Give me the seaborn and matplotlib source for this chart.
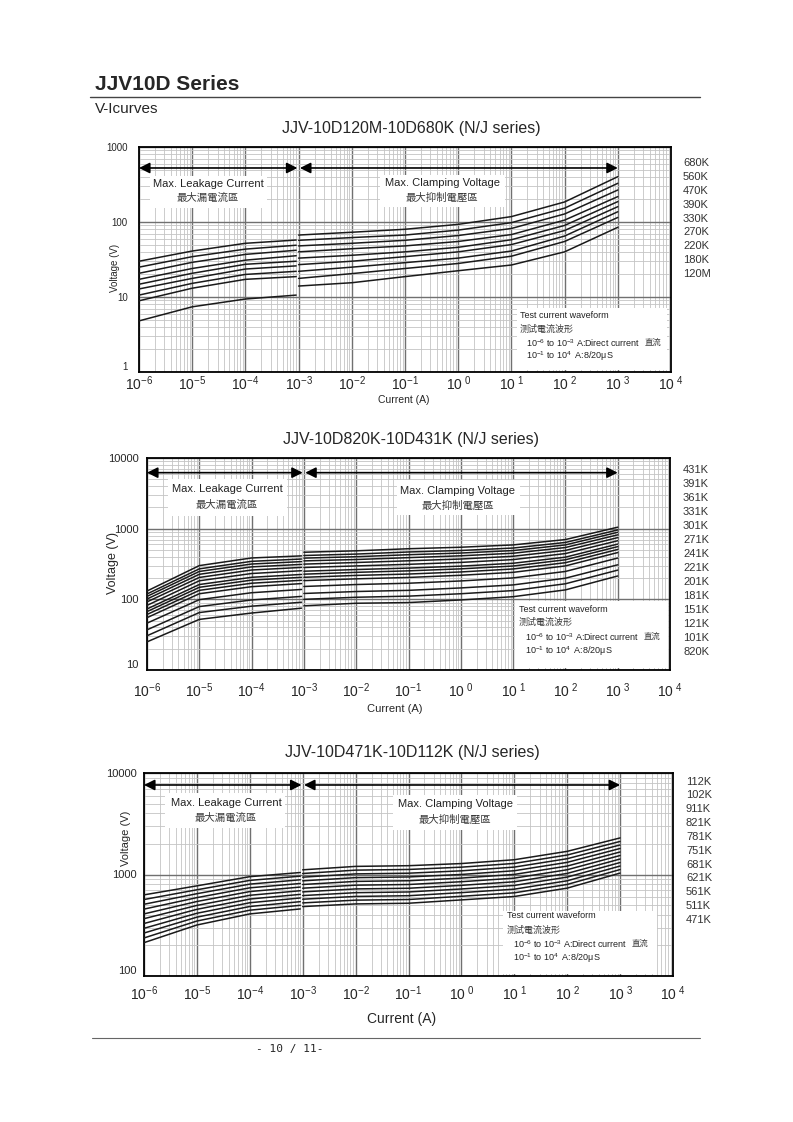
import numpy as np
import pandas as pd
import matplotlib
matplotlib.use("Agg")
import matplotlib.pyplot as plt
import seaborn as sns
from matplotlib.ticker import LogLocator, NullFormatter
from matplotlib.patches import Rectangle
from matplotlib.lines import Line2D

sns.set_style("white")
plt.rcParams["font.family"] = ["Liberation Sans", "Noto Sans CJK SC", "DejaVu Sans"]
plt.rcParams["mathtext.fontset"] = "custom"
plt.rcParams["mathtext.rm"] = "Liberation Sans"
plt.rcParams["mathtext.it"] = "Liberation Sans:italic"
plt.rcParams["mathtext.bf"] = "Liberation Sans:bold"

# ---- data ----
current_leak = [1e-6, 1e-5, 1e-4, 9e-4]
current_clamp = [1e-3, 1e-2, 1e-1, 1, 10, 100, 1000]

names_1 = ["680K", "560K", "470K", "390K", "330K", "270K", "220K", "180K", "120M"]
leak_1 = [
    [30, 41, 52, 57.5],
    [25, 34.5, 43.5, 49],
    [20.7, 29, 37, 42],
    [17.2, 24, 31, 35.5],
    [14.8, 20.7, 27.3, 30],
    [12.8, 17.7, 23.6, 26],
    [10.6, 15.2, 20, 22],
    [8.9, 13.1, 17.2, 18.7],
    [4.8, 7.4, 9.4, 10.6],
]
clamp_1 = [
    [67, 73, 80, 93, 118, 185, 402],
    [57, 62, 67, 78, 98, 153, 328],
    [48, 52, 57, 66, 82, 128, 267],
    [40, 44, 48, 55, 68, 106, 218],
    [33, 36, 40, 46, 58, 90, 187],
    [27, 30, 34.5, 40, 50, 77, 160],
    [22, 25, 28.7, 33, 41, 65, 137],
    [17.7, 20.5, 24, 28, 35, 55, 115],
    [14, 15.5, 18.7, 22.4, 26.7, 40, 85],
]

names_2 = ["431K", "391K", "361K", "331K", "301K", "271K", "241K",
           "221K", "201K", "181K", "151K", "121K", "101K", "820K"]
leak_2 = [
    [131, 300, 385, 412],
    [119, 270, 345, 372],
    [110, 248, 316, 342],
    [101, 226, 288, 312],
    [92, 204, 260, 283],
    [82, 183, 232, 254],
    [73, 162, 205, 225],
    [67, 148, 187, 205],
    [61, 134, 169, 186],
    [55, 120, 151, 167],
    [46, 99, 124, 138],
    [37, 79, 98, 110],
    [30.5, 65, 80, 91],
    [25, 52, 64, 75],
]
clamp_2 = [
    [464, 486, 520, 546, 589, 701, 1049],
    [417, 437, 468, 491, 532, 638, 959],
    [383, 401, 428, 452, 490, 589, 889],
    [350, 366, 389, 413, 449, 541, 818],
    [315, 332, 351, 372, 407, 492, 747],
    [282, 297, 313, 333, 365, 444, 675],
    [250, 264, 277, 295, 324, 395, 605],
    [227, 241, 253, 270, 296, 363, 557],
    [205, 218, 228, 244, 269, 330, 508],
    [184, 195, 204, 219, 241, 297, 459],
    [152, 162, 169, 182, 201, 248, 384],
    [121, 129, 134, 145, 160, 199, 308],
    [100, 107, 111, 120, 133, 166, 259],
    [81, 88, 90, 98, 109, 136, 214],
]

names_3 = ["112K", "102K", "911K", "821K", "781K", "751K", "681K",
           "621K", "561K", "511K", "471K"]
leak_3 = [
    [630, 773, 952, 1046],
    [567, 707, 875, 963],
    [509, 647, 804, 887],
    [456, 592, 739, 816],
    [409, 542, 679, 752],
    [367, 496, 624, 692],
    [329, 454, 573, 637],
    [295, 415, 527, 587],
    [265, 380, 484, 540],
    [237, 348, 445, 497],
    [213, 318, 409, 458],
]
clamp_3 = [
    [1112, 1202, 1221, 1282, 1398, 1691, 2293],
    [1023, 1104, 1121, 1181, 1286, 1556, 2117],
    [941, 1014, 1030, 1087, 1183, 1431, 1955],
    [866, 931, 946, 1001, 1089, 1317, 1805],
    [797, 855, 868, 922, 1002, 1211, 1667],
    [733, 785, 797, 849, 921, 1114, 1539],
    [674, 721, 732, 782, 848, 1025, 1421],
    [620, 662, 673, 720, 780, 943, 1312],
    [571, 608, 618, 663, 717, 867, 1212],
    [525, 559, 567, 610, 660, 798, 1119],
    [483, 513, 521, 562, 607, 734, 1033],
]

x_ticks = [1e-6, 1e-5, 1e-4, 1e-3, 1e-2, 1e-1, 1, 10, 100, 1000, 10000]
x_ticklabels = ["$10^{-6}$", "$10^{-5}$", "$10^{-4}$", "$10^{-3}$", "$10^{-2}$",
                "$10^{-1}$", "$10^{\\ 0}$", "$10^{\\ 1}$", "$10^{\\ 2}$",
                "$10^{\\ 3}$", "$10^{\\ 4}$"]

# ---- page ----
W, H = 793, 1122
fig = plt.figure(figsize=(W / 100, H / 100), dpi=100)


def ftxt(x, y, s, **kw):
    return fig.text(x / W, 1 - y / H, s, **kw)


def fline(x0, x1, y, **kw):
    fig.add_artist(Line2D([x0 / W, x1 / W], [1 - y / H, 1 - y / H],
                          transform=fig.transFigure, **kw))


ftxt(95, 84, "JJV10D Series", fontsize=15, fontweight="bold", va="center")
fline(90, 700, 97, color="#444444", lw=1.0)
ftxt(95, 109, "V-Icurves", fontsize=11, va="center")
fline(92, 700, 1038, color="#666666", lw=0.8)
ftxt(290, 1049, "- 10 / 11-", fontsize=8, ha="center", va="center",
     family="DejaVu Sans Mono")

TXT = "#222222"


def draw_chart(cfg):
    x0, y0, x1, y1 = cfg["box"]
    ax = fig.add_axes([x0 / W, 1 - y1 / H, (x1 - x0) / W, (y1 - y0) / H])
    ax.set_xscale("log")
    ax.set_yscale("log")
    ax.set_xlim(1e-6, 1e4)
    ax.set_ylim(*cfg["ylim"])

    def fr(x, y):
        return (x - x0) / (x1 - x0), (y1 - y) / (y1 - y0)

    rows = []
    for name, lv, cv in zip(cfg["names"], cfg["leak"], cfg["clamp"]):
        for i, v in zip(current_leak, lv):
            rows.append((name + "_leak", i, v))
        for i, v in zip(current_clamp, cv):
            rows.append((name + "_clamp", i, v))
    df = pd.DataFrame(rows, columns=["unit", "I", "V"])
    sns.lineplot(data=df, x="I", y="V", units="unit", estimator=None,
                 color="#1a1a1a", lw=1.1, ax=ax, zorder=4)
    ax.set_xlabel("")
    ax.set_ylabel("")

    # grid
    ax.set_axisbelow(True)
    ax.xaxis.set_minor_locator(LogLocator(base=10, subs=range(2, 10), numticks=100))
    ax.yaxis.set_minor_locator(LogLocator(base=10, subs=range(2, 10), numticks=100))
    ax.xaxis.set_minor_formatter(NullFormatter())
    ax.yaxis.set_minor_formatter(NullFormatter())
    ax.grid(which="major", color="#707070", lw=1.0)
    ax.grid(which="minor", color="#c4c4c4", lw=0.6)
    for s in ax.spines.values():
        s.set_color("black")
        s.set_linewidth(1.3)

    ax.set_xticks(x_ticks)
    ax.set_xticklabels(x_ticklabels, fontsize=10)
    ax.set_yticks(cfg["yticks"])
    ylabels = ax.set_yticklabels([str(t) for t in cfg["yticks"]], fontsize=cfg["ytfs"])
    ax.tick_params(which="both", length=0)
    ax.tick_params(axis="x", pad=cfg["xpad"])
    ax.tick_params(axis="y", pad=cfg["ypad"])
    # the lowest y label sits on the axis line so it clears the x labels
    ylabels[0].set_verticalalignment("bottom")

    # region arrows
    ay = cfg["arrow_y"]
    arr = dict(arrowstyle="<|-|>", color="black", lw=1.2, mutation_scale=16,
               shrinkA=0, shrinkB=0)
    ax.annotate("", xy=(9.5e-4, ay), xytext=(1e-6, ay), arrowprops=arr, zorder=5)
    ax.annotate("", xy=(1e3, ay), xytext=(1.06e-3, ay), arrowprops=arr, zorder=5)

    # white label boxes
    for bx in (cfg["leak_box"], cfg["clamp_box"], cfg["test_box"]):
        bx0, by0, bx1, by1 = bx
        fx, fy = fr(bx0, by1)
        ax.add_patch(Rectangle((fx, fy), (bx1 - bx0) / (x1 - x0),
                               (by1 - by0) / (y1 - y0), transform=ax.transAxes,
                               facecolor="white", edgecolor="none", zorder=1.5))

    tx, ty1, ty2 = cfg["leak_txt"]
    ax.text(*fr(tx, ty1), "Max. Leakage Current", transform=ax.transAxes,
            ha="center", va="center", fontsize=8, color=TXT, zorder=6)
    ax.text(*fr(tx, ty2), "最大漏電流區", transform=ax.transAxes,
            ha="center", va="center", fontsize=7.5, color="#3a3a3a", zorder=6)
    tx, ty1, ty2 = cfg["clamp_txt"]
    ax.text(*fr(tx, ty1), "Max. Clamping Voltage", transform=ax.transAxes,
            ha="center", va="center", fontsize=8, color=TXT, zorder=6)
    ax.text(*fr(tx, ty2), "最大抑制電壓區", transform=ax.transAxes,
            ha="center", va="center", fontsize=7.5, color="#3a3a3a", zorder=6)

    tx, ys = cfg["test_txt"]
    ax.text(*fr(tx, ys[0]), "Test current waveform", transform=ax.transAxes,
            ha="left", va="center", fontsize=6.5, color=TXT, zorder=6)
    ax.text(*fr(tx, ys[1]), "测试電流波形", transform=ax.transAxes,
            ha="left", va="center", fontsize=6.5, color="#3a3a3a", zorder=6)
    dc = ax.text(*fr(tx + 6, ys[2]), "10$^{-6}$ to 10$^{-3}$ A:Direct current",
                 transform=ax.transAxes, ha="left", va="center", fontsize=6.5,
                 color=TXT, zorder=6)
    ax.annotate("直流", xy=(1, 0.5), xycoords=dc, xytext=(3, 0),
                textcoords="offset points", ha="left", va="center",
                fontsize=6, color="#3a3a3a", zorder=6)
    ax.text(*fr(tx + 6, ys[3]), "10$^{-1}$ to 10$^{4}$  A:8/20μS",
            transform=ax.transAxes, ha="left", va="center", fontsize=6.5,
            color=TXT, zorder=6)

    # right side part numbers
    lx, ly0, lstep = cfg["labels_pos"]
    for k, nm in enumerate(cfg["names"]):
        ftxt(lx, ly0 + k * lstep, nm, fontsize=8, va="center", color="#333333")

    ftxt(cfg["title_pos"][0], cfg["title_pos"][1], cfg["title"], fontsize=11.5,
         ha="center", va="center")
    ftxt(cfg["vlabel"][0], cfg["vlabel"][1], "Voltage (V)", rotation=90,
         fontsize=cfg["vlabel"][2], ha="center", va="center")
    ftxt(cfg["clabel"][0], cfg["clabel"][1], "Current (A)",
         fontsize=cfg["clabel"][2], ha="center", va="center")
    return ax


draw_chart(dict(
    box=(139, 147, 671, 372), ylim=(1, 1000), yticks=[1, 10, 100, 1000],
    names=names_1, leak=leak_1, clamp=clamp_1, arrow_y=525,
    leak_box=(150, 176, 267, 208), clamp_box=(380, 175, 505, 207),
    test_box=(517, 308, 667, 370),
    leak_txt=(208, 184, 198), clamp_txt=(442, 183, 198),
    test_txt=(520, [315, 329, 343, 356]),
    labels_pos=(683, 163.3, 13.8),
    title="JJV-10D120M-10D680K (N/J series)", title_pos=(411, 129),
    vlabel=(115, 268, 7), clabel=(404, 400, 7.5),
    ytfs=7, xpad=2, ypad=8,
))

draw_chart(dict(
    box=(147, 458, 670, 670), ylim=(10, 10000), yticks=[10, 100, 1000, 10000],
    names=names_2, leak=leak_2, clamp=clamp_2, arrow_y=6200,
    leak_box=(168, 479, 287, 516), clamp_box=(397, 480, 520, 515),
    test_box=(515, 601, 668, 668),
    leak_txt=(227, 489, 505), clamp_txt=(458, 491, 506),
    test_txt=(519, [609, 622, 637, 651]),
    labels_pos=(683, 470, 14.0),
    title="JJV-10D820K-10D431K (N/J series)", title_pos=(411, 440),
    vlabel=(113, 563, 9), clabel=(395, 709, 8),
    ytfs=8, xpad=8, ypad=6,
))

draw_chart(dict(
    box=(144, 773, 673, 976), ylim=(100, 10000), yticks=[100, 1000, 10000],
    names=names_3, leak=leak_3, clamp=clamp_3, arrow_y=7620,
    leak_box=(165, 793, 285, 828), clamp_box=(393, 795, 517, 830),
    test_box=(503, 911, 657, 974),
    leak_txt=(226, 803, 818), clamp_txt=(455, 804, 820),
    test_txt=(507, [916, 930, 944, 958]),
    labels_pos=(686, 781.7, 13.8),
    title="JJV-10D471K-10D112K (N/J series)", title_pos=(412, 752),
    vlabel=(126, 838, 8), clabel=(402, 1019, 10),
    ytfs=8, xpad=6, ypad=5.5,
))

fig.savefig("out.png", dpi=100)
